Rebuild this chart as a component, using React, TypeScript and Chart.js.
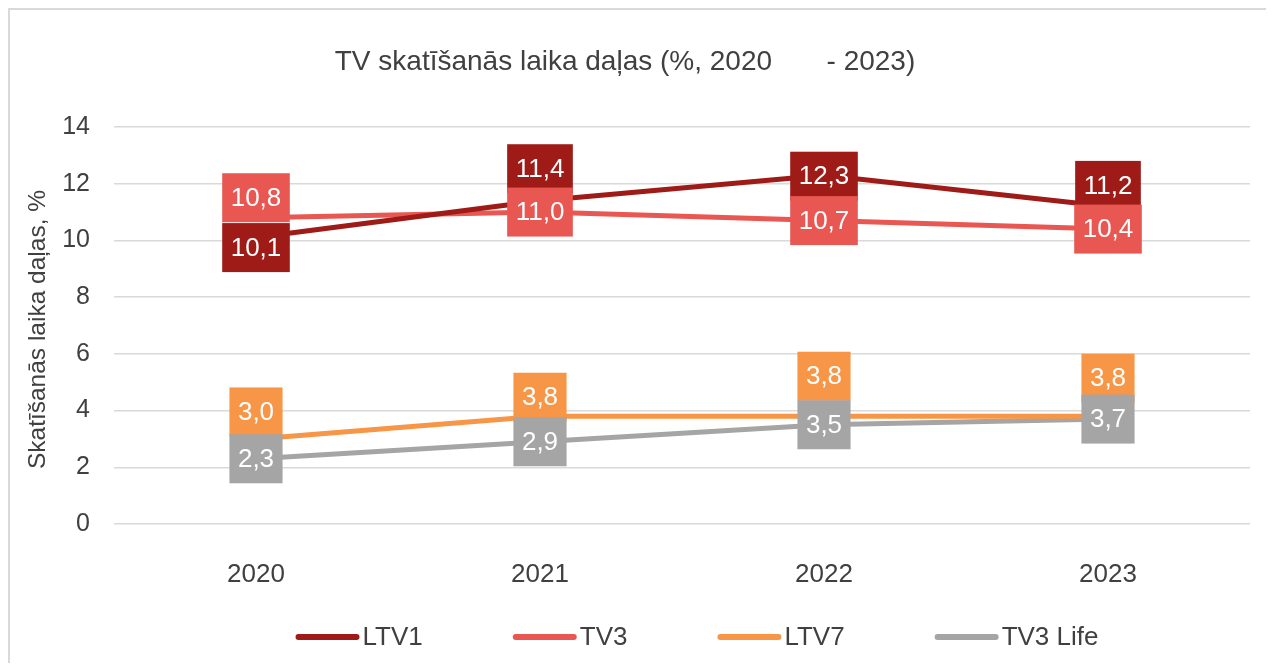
import React, { useEffect, useRef } from "react";
import { Chart, registerables } from "chart.js";

Chart.register(...registerables);

const FONT = '"Liberation Sans", Arial, Helvetica, sans-serif';

const categories = ["2020", "2021", "2022", "2023"];
const seriesNames = ["LTV1", "TV3", "LTV7", "TV3 Life"];
const ltv1 = [10.1, 11.4, 12.3, 11.2];
const tv3 = [10.8, 11.0, 10.7, 10.4];
const ltv7 = [3.0, 3.8, 3.8, 3.8];
const tv3Life = [2.3, 2.9, 3.5, 3.7];
const seriesColors = ["#9E1B17", "#E85752", "#F79646", "#A5A5A5"];
const yMin = 0;
const yMax = 14;
const yStep = 2;

const titleText = "TV skatīšanās laika daļas (%, 2020       - 2023)";
const yAxisTitle = "Skatīšanās laika daļas, %";

// vertical shift (px) of each data label box relative to its point
const labelShift = [
  [10, -32, 1, -21],
  [-20, 0, 0, 0],
  [-27, -19, -40, -38],
  [0, 0, 0, 0],
];

const TEXT = "#404040";

const overlay = {
  id: "overlay",
  afterDatasetsDraw(chart: any) {
    const ctx = chart.ctx;
    chart.data.datasets.forEach((ds: any, di: number) => {
      const meta = chart.getDatasetMeta(di);
      meta.data.forEach((pt: any, i: number) => {
        const v = ds.data[i] as number;
        const txt = v.toFixed(1).replace(".", ",");
        ctx.save();
        ctx.font = `26px ${FONT}`;
        const tw = ctx.measureText(txt).width;
        const w = tw + 17;
        const h = 49;
        const cx = pt.x;
        const cy = pt.y + labelShift[di][i];
        ctx.fillStyle = ds.borderColor;
        ctx.fillRect(cx - w / 2, cy - h / 2, w, h);
        ctx.fillStyle = "#ffffff";
        ctx.textAlign = "center";
        ctx.textBaseline = "middle";
        ctx.fillText(txt, cx, cy + 1);
        ctx.restore();
      });
    });
  },
  afterDraw(chart: any) {
    const ctx = chart.ctx;
    const area = chart.chartArea;
    ctx.save();
    // title
    ctx.fillStyle = TEXT;
    ctx.font = `28px ${FONT}`;
    ctx.textAlign = "center";
    ctx.textBaseline = "middle";
    ctx.fillText(titleText, 615, 52);
    // y axis title
    ctx.save();
    ctx.font = `24.5px ${FONT}`;
    ctx.translate(28, (area.top + area.bottom) / 2 + 4);
    ctx.rotate(-Math.PI / 2);
    ctx.fillText(yAxisTitle, 0, 0);
    ctx.restore();
    // legend
    ctx.font = `26px ${FONT}`;
    const lineLen = 64;
    const gapLT = 3;
    const gapItems = 90;
    const items = chart.data.datasets.map((ds: any) => ({
      label: ds.label,
      color: ds.borderColor,
      tw: ctx.measureText(ds.label).width,
    }));
    const total =
      items.reduce((s: number, it: any) => s + lineLen + gapLT + it.tw, 0) +
      gapItems * (items.length - 1);
    let x = 687 - total / 2;
    const y = 627;
    items.forEach((it: any) => {
      ctx.strokeStyle = it.color;
      ctx.lineWidth = 6;
      ctx.lineCap = "round";
      ctx.beginPath();
      ctx.moveTo(x + 3, y);
      ctx.lineTo(x + lineLen - 3, y);
      ctx.stroke();
      ctx.fillStyle = TEXT;
      ctx.textAlign = "left";
      ctx.textBaseline = "middle";
      ctx.fillText(it.label, x + lineLen + gapLT, y + 1);
      x += lineLen + gapLT + it.tw + gapItems;
    });
    ctx.restore();
  },
};

export default function App() {
  const canvasRef = useRef<HTMLCanvasElement | null>(null);

  useEffect(() => {
    document.documentElement.style.overflow = "hidden";
    const canvas = canvasRef.current;
    if (!canvas) return;
    const values = [ltv1, tv3, ltv7, tv3Life];
    const chart = new Chart(canvas, {
      type: "line",
      data: {
        labels: categories,
        datasets: values.map((vals, i) => ({
          label: seriesNames[i],
          data: vals,
          borderColor: seriesColors[i],
          backgroundColor: seriesColors[i],
          borderWidth: 5,
          pointRadius: 0,
          pointHoverRadius: 0,
          tension: 0,
          borderJoinStyle: "round",
          fill: false,
        })),
      },
      options: {
        animation: false,
        responsive: false,
        maintainAspectRatio: false,
        events: [],
        layout: { padding: { left: 0, right: 24, top: 117, bottom: 0 } },
        plugins: {
          legend: { display: false },
          title: { display: false },
          tooltip: { enabled: false },
        },
        scales: {
          x: {
            type: "category",
            offset: true,
            grid: { display: false },
            border: { display: false },
            ticks: {
              color: TEXT,
              font: { family: FONT, size: 26 },
              padding: 27,
              maxRotation: 0,
            },
            afterFit(s: any) {
              s.height = 139;
            },
          },
          y: {
            min: yMin,
            max: yMax,
            grid: { color: "#d9d9d9", lineWidth: 1.5, drawTicks: false },
            border: { display: false },
            ticks: {
              stepSize: yStep,
              color: TEXT,
              font: { family: FONT, size: 25 },
              padding: 24,
            },
            afterFit(s: any) {
              s.width = 104;
            },
          },
        },
      } as any,
      plugins: [overlay],
    });
    return () => chart.destroy();
  }, []);

  return (
    <div
      style={{
        width: 1266,
        height: 655,
        boxSizing: "border-box",
        borderTop: "2px solid #d9d9d9",
        borderLeft: "2px solid #d9d9d9",
        background: "#ffffff",
      }}
    >
      <canvas
        ref={canvasRef}
        width={1264}
        height={653}
        style={{ display: "block", width: 1264, height: 653 }}
      />
    </div>
  );
}
